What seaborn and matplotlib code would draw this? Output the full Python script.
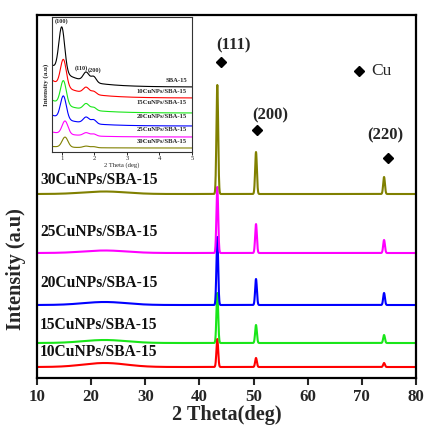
import numpy as np
import pandas as pd
import matplotlib
matplotlib.use("Agg")
import matplotlib.pyplot as plt
import seaborn as sns

# ---- main XRD patterns (offset stacked, arbitrary units) ----
samples = ["10CuNPs/SBA-15", "15CuNPs/SBA-15", "20CuNPs/SBA-15",
           "25CuNPs/SBA-15", "30CuNPs/SBA-15"]
colors = ["#ff0000", "#19e619", "#0000ff", "#ff00ff", "#808000"]
offsets = [11, 35, 73, 125, 184]
cu_planes = ["(111)", "(200)", "(220)"]
cu_pos = [43.3, 50.45, 74.1]
h111 = [28, 50, 68, 66, 109]
h200 = [9, 18, 26, 29, 42]
h220 = [4, 8, 12, 13, 17]
hump_amp = [4.0, 3.0, 3.0, 2.5, 2.5]   # amorphous silica halo near 22.5 deg
hump_pos = 22.5
peak_width = 0.16
hump_width = 4.0

label_y = [26, 53, 95, 146, 198]

# ---- low-angle inset patterns ----
inset_samples = ["SBA-15"] + samples
inset_colors = ["#000000"] + colors
inset_base = [65, 54, 39, 26, 15, 4]
inset_p100_pos = [1.0, 1.05, 1.05, 1.05, 1.1, 1.1]
inset_p100 = [45, 27, 24, 23, 13, 10]
inset_low = [22, 18, 13, 11, 5, 1.5]
inset_p110 = [9, 6, 6, 6, 3, 1.5]
inset_p200 = [6, 3, 3, 4, 2, 1.0]
inset_label_y = [69, 58, 47, 33, 20, 8]

two_theta = np.arange(10, 80.001, 0.02)
low_angle = np.arange(0.7, 5.001, 0.005)


def pattern(i):
    y = np.full_like(two_theta, offsets[i], dtype=float)
    y += hump_amp[i] * np.exp(-0.5 * ((two_theta - hump_pos) / hump_width) ** 2)
    for p, h in zip(cu_pos, (h111[i], h200[i], h220[i])):
        y += h * np.exp(-0.5 * ((two_theta - p) / peak_width) ** 2)
    return y


def low_pattern(i):
    x = low_angle
    y = inset_base[i] + inset_low[i] * np.exp(-(x - 0.7) / 0.8)
    y += inset_p100[i] * np.exp(-0.5 * ((x - inset_p100_pos[i]) / 0.09) ** 2)
    y += inset_p110[i] * np.exp(-0.5 * ((x - 1.75) / 0.09) ** 2)
    y += inset_p200[i] * np.exp(-0.5 * ((x - 1.98) / 0.08) ** 2)
    return y


sns.set_theme(style="ticks")
plt.rcParams["font.family"] = ["Liberation Serif", "DejaVu Serif"]
plt.rcParams["mathtext.fontset"] = "stix"

fig = plt.figure(figsize=(4.25, 4.26), dpi=100)
ax = fig.add_axes([37 / 425, 48 / 426, 379 / 425, 363 / 426])

main_df = pd.concat(
    [pd.DataFrame({"two_theta": two_theta, "intensity": pattern(i), "sample": s})
     for i, s in enumerate(samples)], ignore_index=True)

for i, s in enumerate(samples):
    sub = main_df[main_df["sample"] == s]
    sns.lineplot(data=sub, x="two_theta", y="intensity", ax=ax,
                 color=colors[i], lw=1.5, estimator=None, sort=False)
    ax.text(10.6, label_y[i], s, fontsize=11.2, fontweight="bold",
            ha="left", va="center", color="#111111")

ax.set_xlim(10, 80)
ax.set_ylim(0, 363)
ax.set_xticks(np.arange(10, 81, 10))
ax.set_yticks([])
ax.tick_params(axis="x", direction="out", length=5, width=1.5,
               labelsize=12.2, pad=3)
for lbl in ax.get_xticklabels():
    lbl.set_fontweight("bold")
for sp in ax.spines.values():
    sp.set_linewidth(1.6)
    sp.set_color("black")
ax.set_xlabel("2 Theta(deg)", fontsize=14.6, fontweight="bold", labelpad=0)
ax.set_ylabel("Intensity (a.u)", fontsize=14.6, fontweight="bold")
ax.yaxis.set_label_coords(-0.03, 0.30)

# Cu reflections
plane_text_x = [46.3, 53.0, 74.3]
plane_text_y = [333, 263, 243]
marker_x = [44.0, 50.6, 74.9]
marker_y = [316, 248, 220]
for t, tx, ty, mx, my in zip(cu_planes, plane_text_x, plane_text_y, marker_x, marker_y):
    ax.text(tx, ty, t, fontsize=12, fontweight="bold", ha="center", va="center")
    ax.plot(mx, my, marker="D", color="black", ms=5.5, ls="none")
ax.plot(69.5, 307, marker="D", color="black", ms=5.5, ls="none")
ax.text(71.8, 307, "Cu", fontsize=12.5, ha="left", va="center")

# ---- inset: low-angle region ----
ins = fig.add_axes([52 / 425, (426 - 152) / 426, 140 / 425, 135 / 426])
low_df = pd.concat(
    [pd.DataFrame({"two_theta": low_angle, "intensity": low_pattern(i), "sample": s})
     for i, s in enumerate(inset_samples)], ignore_index=True)
for i, s in enumerate(inset_samples):
    sub = low_df[low_df["sample"] == s]
    sns.lineplot(data=sub, x="two_theta", y="intensity", ax=ins,
                 color=inset_colors[i], lw=0.8, estimator=None, sort=False)
    ins.text(4.85, inset_label_y[i], s, fontsize=4.8, fontweight="bold",
             ha="right", va="bottom")
ins.set_xlim(0.7, 5)
ins.set_ylim(0, 135)
ins.set_xticks([1, 2, 3, 4, 5])
ins.set_yticks([])
ins.tick_params(axis="x", direction="out", length=2, width=0.7,
                labelsize=4.8, pad=1)
for sp in ins.spines.values():
    sp.set_linewidth(0.8)
    sp.set_color("#333333")
ins.set_xlabel("2 Theta (deg)", fontsize=4.8, labelpad=1)
ins.set_ylabel("Intensity (a.u)", fontsize=5, fontweight="bold", labelpad=2)
ins.text(1.0, 131, "(100)", fontsize=4.5, fontweight="bold", ha="center", va="center")
ins.text(1.6, 84, "(110)", fontsize=4.5, fontweight="bold", ha="center", va="center")
ins.text(2.0, 82, "(200)", fontsize=4.5, fontweight="bold", ha="center", va="center")

fig.savefig("out.png", dpi=100)
